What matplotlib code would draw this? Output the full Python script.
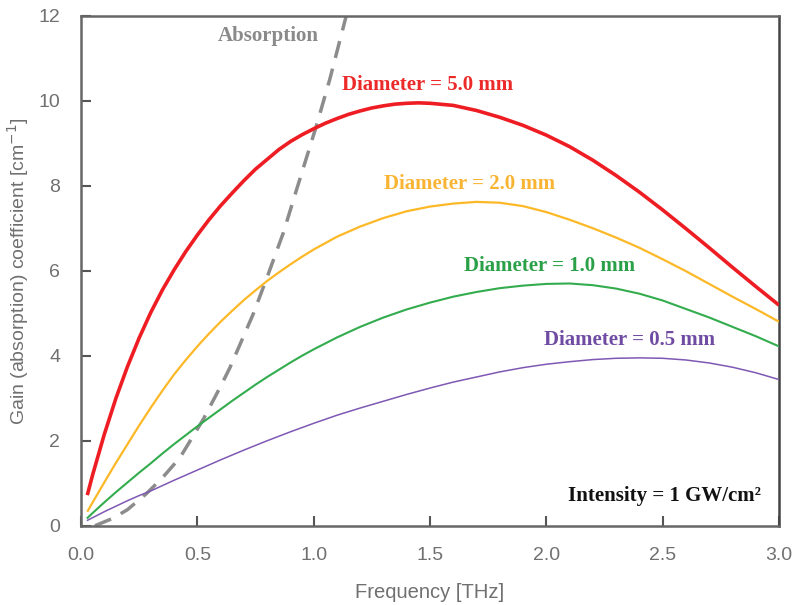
import matplotlib
matplotlib.use("Agg")
import matplotlib.pyplot as plt

# Frequency [THz] and gain coefficient [cm^-1] for each beam diameter
freq_5mm = [0.027, 0.05, 0.1, 0.15, 0.2, 0.25, 0.3, 0.35, 0.4, 0.45, 0.5, 0.55, 0.6, 0.65,
            0.7, 0.75, 0.8, 0.85, 0.9, 0.95, 1.0, 1.05, 1.1, 1.15, 1.2, 1.25, 1.3, 1.35,
            1.4, 1.45, 1.5, 1.6, 1.7, 1.8, 1.9, 2.0, 2.1, 2.2, 2.3, 2.4, 2.5, 2.6, 2.7,
            2.8, 2.9, 3.0]
gain_5mm = [0.72, 1.2, 2.15, 3.0, 3.75, 4.42, 5.02, 5.55, 6.02, 6.45, 6.84, 7.2, 7.53, 7.83,
            8.12, 8.39, 8.62, 8.85, 9.04, 9.2, 9.34, 9.47, 9.58, 9.68, 9.76, 9.83, 9.88, 9.92,
            9.94, 9.95, 9.94, 9.89, 9.77, 9.61, 9.42, 9.19, 8.92, 8.6, 8.24, 7.85, 7.43, 6.99,
            6.54, 6.08, 5.63, 5.19]

freq_2mm = [0.027, 0.05, 0.1, 0.15, 0.2, 0.25, 0.3, 0.35, 0.4, 0.45, 0.5, 0.55, 0.6, 0.65,
            0.7, 0.75, 0.8, 0.85, 0.9, 0.95, 1.0, 1.1, 1.2, 1.3, 1.4, 1.5, 1.6, 1.7, 1.8,
            1.9, 2.0, 2.1, 2.2, 2.3, 2.4, 2.5, 2.6, 2.7, 2.8, 2.9, 3.0]
gain_2mm = [0.33, 0.55, 1.02, 1.48, 1.92, 2.36, 2.78, 3.18, 3.56, 3.9, 4.22, 4.52, 4.8, 5.06,
            5.31, 5.54, 5.76, 5.96, 6.15, 6.33, 6.5, 6.8, 7.04, 7.24, 7.4, 7.51, 7.58, 7.62, 7.6,
            7.52, 7.38, 7.2, 7.0, 6.78, 6.54, 6.27, 5.99, 5.69, 5.39, 5.1, 4.8]

freq_1mm = [0.025, 0.05, 0.1, 0.15, 0.2, 0.25, 0.3, 0.35, 0.4, 0.45, 0.5, 0.55, 0.6, 0.65,
            0.7, 0.75, 0.8, 0.85, 0.9, 0.95, 1.0, 1.1, 1.2, 1.3, 1.4, 1.5, 1.6, 1.7, 1.8,
            1.9, 2.0, 2.1, 2.2, 2.3, 2.4, 2.5, 2.6, 2.7, 2.8, 2.9, 3.0]
gain_1mm = [0.17, 0.3, 0.55, 0.79, 1.02, 1.25, 1.47, 1.7, 1.92, 2.13, 2.34, 2.54, 2.74, 2.94,
            3.13, 3.32, 3.5, 3.67, 3.84, 4.0, 4.15, 4.43, 4.68, 4.9, 5.09, 5.25, 5.39, 5.5, 5.59,
            5.65, 5.69, 5.7, 5.66, 5.58, 5.46, 5.3, 5.1, 4.9, 4.68, 4.46, 4.22]

freq_05mm = [0.025, 0.05, 0.1, 0.15, 0.2, 0.25, 0.3, 0.4, 0.5, 0.6, 0.7, 0.8, 0.9, 1.0,
             1.1, 1.2, 1.3, 1.4, 1.5, 1.6, 1.7, 1.8, 1.9, 2.0, 2.1, 2.2, 2.3, 2.4, 2.5,
             2.6, 2.7, 2.8, 2.9, 3.0]
gain_05mm = [0.12, 0.19, 0.33, 0.46, 0.59, 0.71, 0.82, 1.07, 1.31, 1.55, 1.78, 2.0, 2.21, 2.41,
             2.6, 2.77, 2.93, 3.09, 3.24, 3.38, 3.5, 3.62, 3.72, 3.8, 3.86, 3.91, 3.94, 3.95, 3.94,
             3.9, 3.83, 3.73, 3.6, 3.44]

# Material absorption coefficient [cm^-1]
freq_abs = [0.06, 0.139, 0.2, 0.282, 0.35, 0.425, 0.525, 0.6, 0.64, 0.74, 0.8, 0.87, 0.926,
            1.01, 1.069, 1.14]
alpha_abs = [0.0, 0.18, 0.38, 0.76, 1.13, 1.6, 2.5, 3.28, 3.72, 4.98, 5.85, 6.9, 7.9,
             9.38, 10.5, 12.0]

x_ticks = [0.0, 0.5, 1.0, 1.5, 2.0, 2.5, 3.0]
y_ticks = [0, 2, 4, 6, 8, 10, 12]

series = [
    (freq_5mm, gain_5mm, "#EE1D23", 2.6, "Diameter = 5.0 mm", "#EC2A2A", 1.489, 10.36),
    (freq_2mm, gain_2mm, "#FDB827", 1.6, "Diameter = 2.0 mm", "#F9B433", 1.668, 8.03),
    (freq_1mm, gain_1mm, "#33AC4E", 1.5, "Diameter = 1.0 mm", "#2AA048", 2.015, 6.10),
    (freq_05mm, gain_05mm, "#7F58B4", 1.1, "Diameter = 0.5 mm", "#6F4BA3", 2.359, 4.36),
]

fig = plt.figure(figsize=(7.92, 6.05), dpi=100)
ax = fig.add_axes([0.1023, 0.131, 0.8813, 0.843])

serif = ["Liberation Serif", "DejaVu Serif"]

for f, g, col, lw, label, tcol, tx, ty in series:
    ax.plot(f, g, color=col, lw=lw, solid_capstyle="butt", solid_joinstyle="round", zorder=3)
    ax.text(tx, ty, label, color=tcol, fontsize=15, fontweight="bold",
            family=serif, ha="center", va="center")

ax.plot(freq_abs, alpha_abs, color="#8C8C8C", lw=2.5, dashes=(5, 3.2), zorder=2)
ax.text(0.804, 11.53, "Absorption", color="#8A8A8A", fontsize=15, fontweight="bold",
        family=serif, ha="center", va="center")

ax.text(2.508, 0.70, "Intensity = 1 GW/cm²", color="#111111", fontsize=15,
        fontweight="bold", family=serif, ha="center", va="center")

ax.set_xlim(0, 3.0)
ax.set_ylim(0, 12)
ax.set_xticks(x_ticks)
ax.set_xticklabels([f"{v:.1f}" for v in x_ticks])
ax.set_yticks(y_ticks)
ax.set_yticklabels([str(v) for v in y_ticks])

label_font = ["Liberation Sans", "DejaVu Sans"]
ax.tick_params(direction="in", length=7, width=1.5, color="#555555",
               labelcolor="#707070", labelsize=14, pad=15)
for lab in ax.get_xticklabels() + ax.get_yticklabels():
    lab.set_family(label_font)

ax.set_xlabel("Frequency [THz]", fontsize=14.5, color="#707070", family=label_font,
              labelpad=14)
ax.set_ylabel("Gain (absorption) coefficient [cm$^{-1}$]", fontsize=14, color="#707070",
              family=label_font, labelpad=5)

for side in ["left", "bottom", "top"]:
    ax.spines[side].set_color("#666666")
    ax.spines[side].set_linewidth(1.8)
ax.spines["right"].set_color("#444444")
ax.spines["right"].set_linewidth(1.8)

fig.savefig("out.png", dpi=100)
